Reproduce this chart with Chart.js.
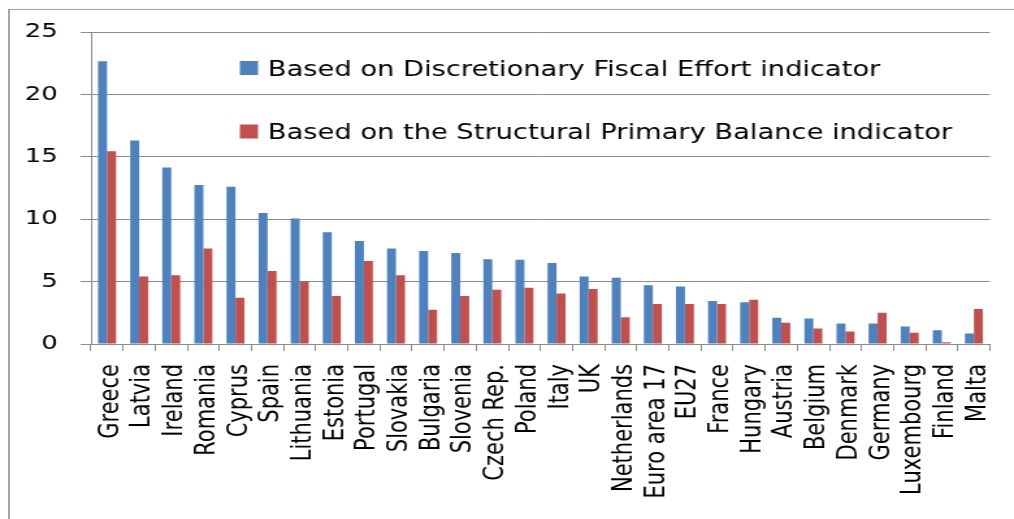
<!DOCTYPE html>
<html>
<head>
<meta charset="utf-8">
<script src="https://cdn.jsdelivr.net/npm/chart.js@4/dist/chart.umd.min.js"></script>
<style>
  html, body { margin: 0; padding: 0; background: #fff; overflow: hidden; }
  #frame { position: absolute; left: 8px; top: 9px; width: 1010px; height: 515px;
           border-left: 2px solid #a3a3a3; border-top: 1px solid #a3a3a3; }
  /* the chart is drawn narrow and then widened */
  #wrap { position: absolute; left: 0; top: 0; width: 780px; height: 519px;
          transform: scaleX(1.3); transform-origin: 0 0; }
</style>
</head>
<body>
<div id="frame"></div>
<div id="wrap"><canvas id="myChart"></canvas></div>
<script>
var countries = ['Greece', 'Latvia', 'Ireland', 'Romania', 'Cyprus', 'Spain', 'Lithuania', 'Estonia',
  'Portugal', 'Slovakia', 'Bulgaria', 'Slovenia', 'Czech Rep.', 'Poland', 'Italy', 'UK', 'Netherlands',
  'Euro area 17', 'EU27', 'France', 'Hungary', 'Austria', 'Belgium', 'Denmark', 'Germany',
  'Luxembourg', 'Finland', 'Malta'];

// Discretionary Fiscal Effort
var dfeValues = [22.65, 16.3, 14.15, 12.75, 12.6, 10.5, 10.05, 8.95, 8.25, 7.65, 7.45, 7.3, 6.8, 6.75,
  6.5, 5.4, 5.3, 4.7, 4.6, 3.45, 3.35, 2.1, 2.05, 1.65, 1.65, 1.4, 1.1, 0.85];
// Structural Primary Balance
var spbValues = [15.45, 5.4, 5.5, 7.65, 3.7, 5.85, 5.0, 3.85, 6.65, 5.5, 2.75, 3.85, 4.35, 4.5,
  4.05, 4.4, 2.15, 3.2, 3.2, 3.2, 3.55, 1.7, 1.25, 1.0, 2.5, 0.9, 0.15, 2.8];

var yTicks = [0, 5, 10, 15, 20, 25];

var seriesNames = ['Based on Discretionary Fiscal Effort indicator',
  'Based on the Structural Primary Balance indicator'];
var seriesColors = ['#4f81bd', '#c0504d'];

var gridColor = '#8c8c8c';
var font = 'DejaVu Sans';

// legend sits inside the plot, one entry per row
var innerLegend = {
  id: 'innerLegend',
  afterDraw: function(chart) {
    var ctx = chart.ctx;
    ctx.save();
    ctx.font = '21px "' + font + '"';
    ctx.textBaseline = 'alphabetic';
    ctx.textAlign = 'left';
    chart.data.datasets.forEach(function(ds, i) {
      var y = 61 + i * 63.5;
      ctx.fillStyle = ds.backgroundColor;
      ctx.fillRect(184.5, y, 14, 14);
      ctx.fillStyle = '#000';
      ctx.fillText(ds.label, 206, y + 14.5);
    });
    ctx.restore();
  }
};

new Chart('myChart', {
  type: 'bar',
  data: {
    labels: countries,
    datasets: [{
      label: seriesNames[0],
      data: dfeValues,
      backgroundColor: seriesColors[0],
      categoryPercentage: 0.56,
      barPercentage: 1
    }, {
      label: seriesNames[1],
      data: spbValues,
      backgroundColor: seriesColors[1],
      categoryPercentage: 0.56,
      barPercentage: 1
    }]
  },
  options: {
    responsive: true,
    maintainAspectRatio: false,
    animation: false,
    devicePixelRatio: 1,
    layout: { padding: { top: 32, right: 18.5, left: 0, bottom: 0 } },
    plugins: {
      legend: { display: false },
      tooltip: { enabled: false }
    },
    scales: {
      x: {
        grid: { drawOnChartArea: false, drawTicks: true, tickLength: 7, color: gridColor, offset: true },
        border: { color: gridColor, width: 1 },
        ticks: {
          color: '#000',
          font: { family: font, size: 21 },
          minRotation: 90,
          maxRotation: 90,
          autoSkip: false,
          padding: 13,
          labelOffset: 3
        },
        afterFit: function(scale) {
          scale.height = 175;
          scale.paddingLeft = 0;
          scale.paddingRight = 0;
        }
      },
      y: {
        min: 0,
        max: 25,
        grid: { color: gridColor, lineWidth: 1, tickLength: 8 },
        border: { color: gridColor, width: 1 },
        afterBuildTicks: function(scale) {
          scale.ticks = yTicks.map(function(v) { return { value: v }; });
        },
        ticks: {
          color: '#000',
          font: { family: font, size: 20 },
          padding: 17.5
        },
        afterFit: function(scale) {
          scale.width = 70;
          scale.paddingTop = 0;
          scale.paddingBottom = 0;
        }
      }
    }
  },
  plugins: [innerLegend]
});
</script>
</body>
</html>
